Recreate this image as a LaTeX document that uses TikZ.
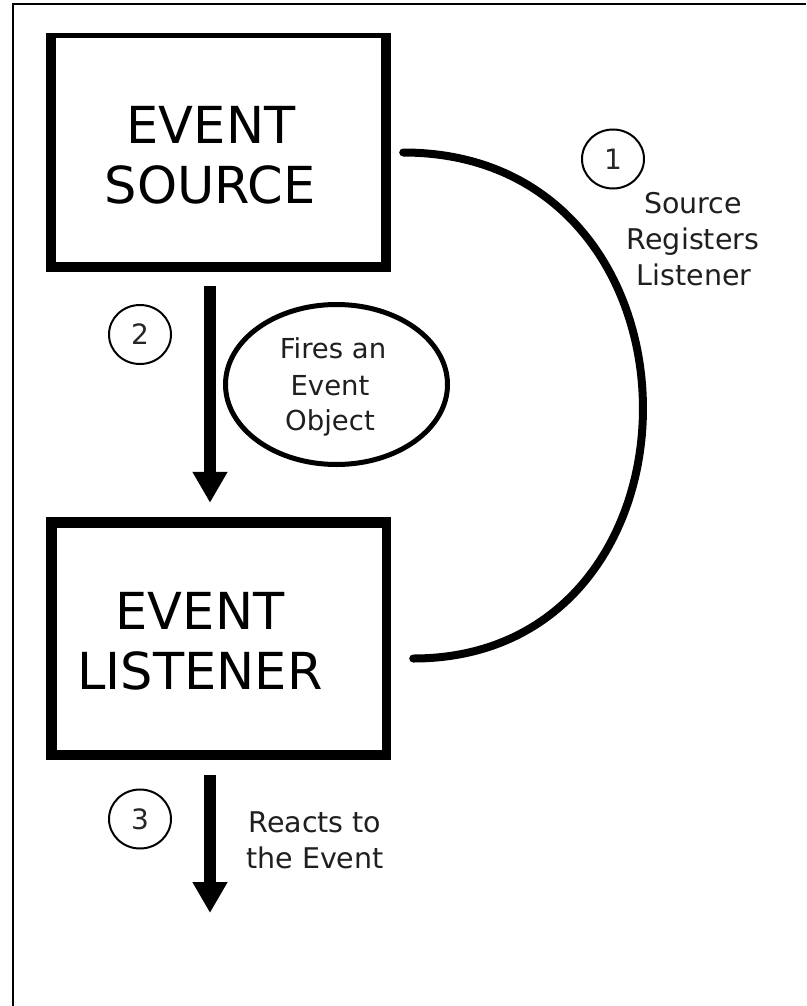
\documentclass[tikz,border=0pt]{standalone}
\usepackage{fontspec}
\setmainfont{DejaVu Sans}
\usetikzlibrary{shapes.geometric,arrows.meta}
\tikzset{
  big/.style={font=\fontsize{51pt}{60pt}\selectfont, inner sep=0pt, anchor=base},
  small/.style={font=\fontsize{28.5pt}{34pt}\selectfont, inner sep=0pt, anchor=base, text=black!88},
  num/.style={draw, line width=2pt, ellipse, minimum width=62pt, minimum height=59pt, inner sep=0pt,
              font=\fontsize{28pt}{32pt}\selectfont, text=black!85},
  boxouter/.style={fill=black, inner sep=0pt, rectangle},
  boxinner/.style={fill=white, inner sep=0pt, rectangle},
  fatarrow/.style={line width=12pt, -{Triangle[width=33pt,length=31pt]}},
  arcline/.style={line width=8pt, line cap=round},
  bubble/.style={draw, ellipse, line width=5pt, inner sep=0pt},
  frame/.style={line width=1.5pt}
}
\begin{document}
\begin{tikzpicture}[x=1pt,y=-1pt]
\useasboundingbox (0,0) rectangle (806,1006);
\fill[white] (0,0) rectangle (806,1006);
\draw[frame] (13,1006) -- (13,4) -- (806,4);

% Event source box
\node[boxouter, minimum width=345pt, minimum height=239pt] (src) at (218.5,152.5) {};
\node[boxinner, minimum width=325pt, minimum height=224pt] (srcin) at (218.5,150) {};
\node[big] (srct1) at (211,143) {EVENT};
\node[big] (srct2) at (210,203) {SOURCE};

% Event listener box
\node[boxouter, minimum width=345pt, minimum height=243pt] (lis) at (218.5,638.5) {};
\node[boxinner, minimum width=325pt, minimum height=222pt] (lisin) at (219.5,639) {};
\node[big] (list1) at (200,629) {EVENT};
\node[big] (list2) at (200,689) {LISTENER};

% arc 1
\draw[arcline] ([shift={(12,0)}]src.east) .. controls +(318,0) and +(308,0) .. ([shift={(22,20)}]lis.east);
\node[num] (n1) at (613,159) {1};
\node[small] (r1) at (693,213) {Source};
\node[small] (r2) at (693,249) {Registers};
\node[small] (r3) at (694,285) {Listener};

% arrow 2
\draw[fatarrow] ([shift={(-8.5,14)}]src.south) -- ([shift={(-8.5,-14)}]lis.north);
\node[num] (n2) at (140,334.5) {2};
\node[bubble, minimum width=222pt, minimum height=160pt] (fire) at (336.5,384.5) {};
\node[small, font=\fontsize{27.5pt}{34pt}\selectfont] (f1) at (333,358) {Fires an};
\node[small, font=\fontsize{27.5pt}{34pt}\selectfont] (f2) at (330,395) {Event};
\node[small, font=\fontsize{27.5pt}{34pt}\selectfont] (f3) at (330,430) {Object};

% arrow 3
\coordinate (end3) at (210,913);
\draw[fatarrow] ([shift={(-8.5,15)}]lis.south) -- (end3);
\node[num] (n3) at (140,819) {3};
\node[small] (e1) at (315,832) {Reacts to};
\node[small] (e2) at (315,868) {the Event};
\end{tikzpicture}
\end{document}
